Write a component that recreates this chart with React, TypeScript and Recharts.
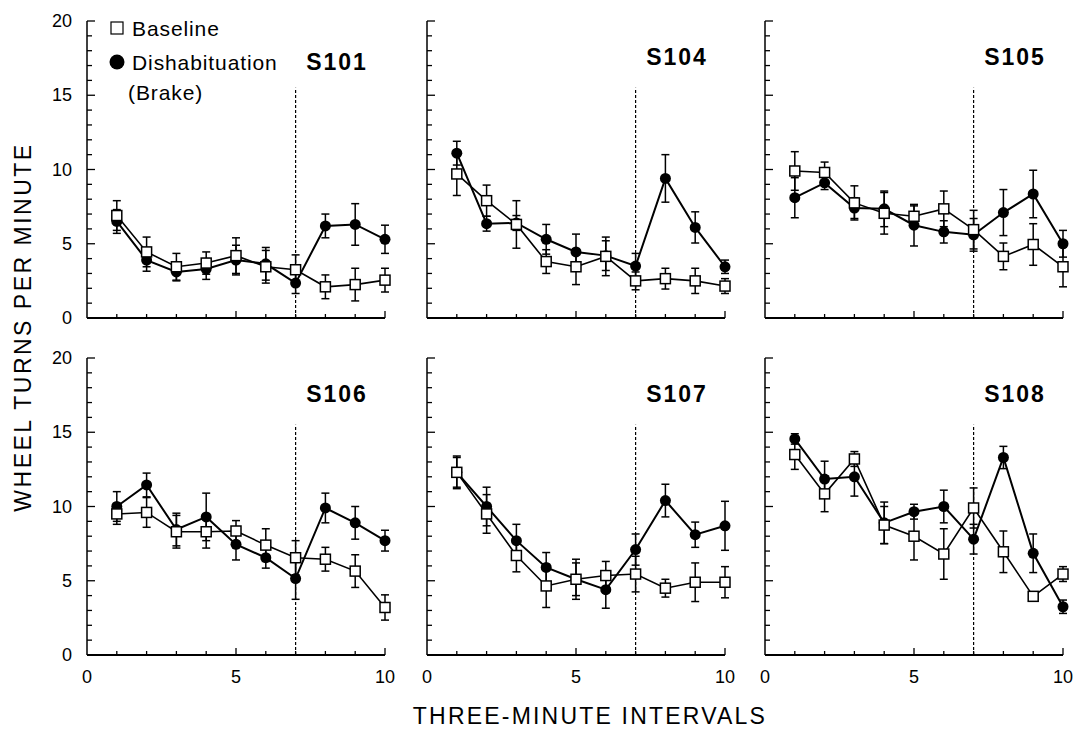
import React from 'react';
import {
  ComposedChart, Line, XAxis, YAxis, ErrorBar, ReferenceLine,
} from 'recharts';

const FONT = '"Liberation Sans", Arial, Helvetica, sans-serif';

// interval number (three-minute blocks)
const INTERVALS = [1, 2, 3, 4, 5, 6, 7, 8, 9, 10];
const X_TICKS = [0, 1, 2, 3, 4, 5, 6, 7, 8, 9, 10];
const Y_TICKS = [0, 1, 2, 3, 4, 5, 6, 7, 8, 9, 10, 11, 12, 13, 14, 15, 16, 17, 18, 19, 20];
const BRAKE_AT = 7;
const BRAKE_LINE_TOP = 15.5;

const S101_BASE = [6.9, 4.45, 3.45, 3.7, 4.2, 3.45, 3.25, 2.1, 2.25, 2.55];
const S101_BASE_ERR = [1.0, 1.0, 0.9, 0.75, 1.2, 1.1, 1.0, 0.8, 1.1, 0.8];
const S101_DISH = [6.5, 3.9, 3.1, 3.3, 3.9, 3.65, 2.35, 6.2, 6.3, 5.3];
const S101_DISH_ERR = [0.8, 0.75, 0.6, 0.7, 1.0, 1.1, 0.7, 0.8, 1.4, 0.95];

const S104_BASE = [9.7, 7.9, 6.3, 3.8, 3.45, 4.15, 2.5, 2.65, 2.5, 2.15];
const S104_BASE_ERR = [1.45, 1.05, 1.6, 0.8, 1.2, 1.3, 0.6, 0.7, 0.85, 0.5];
const S104_DISH = [11.1, 6.35, 6.4, 5.3, 4.45, 4.2, 3.5, 9.4, 6.1, 3.45];
const S104_DISH_ERR = [0.8, 0.5, 0.5, 1.0, 1.2, 1.0, 0.85, 1.6, 1.05, 0.45];

const S105_BASE = [9.9, 9.8, 7.75, 7.05, 6.85, 7.35, 5.95, 4.15, 4.95, 3.45];
const S105_BASE_ERR = [1.3, 0.7, 1.15, 1.4, 0.7, 1.2, 1.3, 0.9, 1.4, 1.35];
const S105_DISH = [8.1, 9.1, 7.4, 7.35, 6.25, 5.8, 5.6, 7.1, 8.35, 5.0];
const S105_DISH_ERR = [1.35, 0.45, 0.7, 1.2, 1.4, 0.75, 1.1, 1.55, 1.6, 0.9];

const S106_BASE = [9.5, 9.6, 8.3, 8.3, 8.35, 7.4, 6.55, 6.45, 5.65, 3.2];
const S106_BASE_ERR = [0.7, 1.0, 1.1, 1.1, 0.7, 1.1, 1.15, 0.8, 1.1, 0.85];
const S106_DISH = [10.0, 11.45, 8.45, 9.3, 7.45, 6.55, 5.15, 9.9, 8.9, 7.7];
const S106_DISH_ERR = [1.0, 0.8, 1.1, 1.6, 1.05, 0.7, 1.4, 1.0, 1.1, 0.7];

const S107_BASE = [12.3, 9.5, 6.7, 4.65, 5.1, 5.35, 5.45, 4.5, 4.9, 4.9];
const S107_BASE_ERR = [1.1, 1.3, 1.1, 1.45, 1.35, 0.95, 1.2, 0.6, 1.3, 1.05];
const S107_DISH = [12.3, 10.0, 7.7, 5.9, 5.1, 4.4, 7.1, 10.4, 8.1, 8.7];
const S107_DISH_ERR = [1.0, 1.3, 1.1, 1.0, 1.1, 1.25, 1.05, 1.1, 0.85, 1.65];

const S108_BASE = [13.5, 10.85, 13.2, 8.75, 8.0, 6.8, 9.9, 6.95, 3.95, 5.45];
const S108_BASE_ERR = [1.0, 1.2, 0.5, 1.25, 1.6, 1.7, 1.35, 1.4, 0.15, 0.5];
const S108_DISH = [14.55, 11.85, 12.0, 8.9, 9.65, 10.0, 7.8, 13.3, 6.85, 3.25];
const S108_DISH_ERR = [0.35, 1.2, 1.3, 1.4, 0.5, 1.1, 1.0, 0.75, 1.3, 0.45];

const PANELS = [
  { id: 'S101', base: S101_BASE, baseErr: S101_BASE_ERR, dish: S101_DISH, dishErr: S101_DISH_ERR },
  { id: 'S104', base: S104_BASE, baseErr: S104_BASE_ERR, dish: S104_DISH, dishErr: S104_DISH_ERR },
  { id: 'S105', base: S105_BASE, baseErr: S105_BASE_ERR, dish: S105_DISH, dishErr: S105_DISH_ERR },
  { id: 'S106', base: S106_BASE, baseErr: S106_BASE_ERR, dish: S106_DISH, dishErr: S106_DISH_ERR },
  { id: 'S107', base: S107_BASE, baseErr: S107_BASE_ERR, dish: S107_DISH, dishErr: S107_DISH_ERR },
  { id: 'S108', base: S108_BASE, baseErr: S108_BASE_ERR, dish: S108_DISH, dishErr: S108_DISH_ERR },
];

// layout
const PLOT_W = 298;
const PLOT_H = 297;
const Y_AXIS_W = 40;
const X_AXIS_H = 45;
const M_TOP = 10;
const M_RIGHT = 16;
const COL_LEFT = [87, 427, 765];
const ROW_TOP = [21, 358];

function SquareDot(props: any) {
  const { cx, cy } = props;
  if (cx == null || cy == null) return null;
  return (
    <rect x={cx - 5} y={cy - 5} width={10} height={10}
      fill="#fff" stroke="#000" strokeWidth={1.5} />
  );
}

function CircleDot(props: any) {
  const { cx, cy } = props;
  if (cx == null || cy == null) return null;
  return <circle cx={cx} cy={cy} r={5.5} fill="#000" />;
}

function makeYTick(showLabel: boolean) {
  return function YTick({ x, y, payload }: any) {
    const major = payload.value % 5 === 0;
    return (
      <g>
        <line x1={x} x2={x + (major ? 8 : 5)} y1={y} y2={y} stroke="#000" strokeWidth={1.3} />
        {showLabel && major && (
          <text x={x - 15} y={y} textAnchor="end" dominantBaseline="central"
            fontSize={18} fontFamily={FONT} fill="#000">
            {payload.value}
          </text>
        )}
      </g>
    );
  };
}

function makeXTick(showLabel: boolean) {
  return function XTick({ x, y, payload }: any) {
    const major = payload.value % 5 === 0;
    return (
      <g>
        {payload.value !== 0 && (
          <line x1={x} x2={x} y1={y} y2={y - (major ? 7 : 4)} stroke="#000" strokeWidth={1.3} />
        )}
        {showLabel && major && (
          <text x={x} y={y + 22} textAnchor="middle" dominantBaseline="central"
            fontSize={18} fontFamily={FONT} fill="#000">
            {payload.value}
          </text>
        )}
      </g>
    );
  };
}

function Panel({ panel, col, row }: any) {
  const data = INTERVALS.map((x, i) => ({
    x,
    base: panel.base[i],
    baseErr: panel.baseErr[i],
    dish: panel.dish[i],
    dishErr: panel.dishErr[i],
  }));
  const width = Y_AXIS_W + PLOT_W + M_RIGHT;
  const height = M_TOP + PLOT_H + X_AXIS_H;
  return (
    <div style={{
      position: 'absolute',
      left: COL_LEFT[col] - Y_AXIS_W,
      top: ROW_TOP[row] - M_TOP,
    }}>
      <ComposedChart width={width} height={height} data={data}
        margin={{ top: M_TOP, right: M_RIGHT, left: 0, bottom: 0 }}>
        <XAxis type="number" dataKey="x" domain={[0, 10]} ticks={X_TICKS} interval={0}
          height={X_AXIS_H} tickSize={0} tickMargin={0}
          axisLine={{ stroke: '#000', strokeWidth: 2 }}
          tick={makeXTick(row === 1)} />
        <YAxis type="number" domain={[0, 20]} ticks={Y_TICKS} interval={0}
          width={Y_AXIS_W} tickSize={0} tickMargin={0}
          axisLine={{ stroke: '#000', strokeWidth: 1.5 }}
          tick={makeYTick(col === 0)} />
        <ReferenceLine
          segment={[{ x: BRAKE_AT, y: 0 }, { x: BRAKE_AT, y: BRAKE_LINE_TOP }]}
          stroke="#000" strokeWidth={1.2} strokeDasharray="3 2" />
        <Line dataKey="dish" stroke="#000" strokeWidth={2} dot={<CircleDot />}
          activeDot={false} isAnimationActive={false}>
          <ErrorBar dataKey="dishErr" direction="y" width={4} stroke="#000" strokeWidth={1.5} />
        </Line>
        <Line dataKey="base" stroke="#000" strokeWidth={1.6} dot={<SquareDot />}
          activeDot={false} isAnimationActive={false}>
          <ErrorBar dataKey="baseErr" direction="y" width={4} stroke="#000" strokeWidth={1.5} />
        </Line>
      </ComposedChart>
    </div>
  );
}

// per-panel id label placement (in pixels relative to plot top-left)
function panelLabelY(id: string) {
  return id === 'S101' ? 41 : 36;
}

export default function App() {
  return (
    <div style={{
      position: 'absolute', left: 0, top: 0, width: 1076, height: 729,
      background: '#fff', overflow: 'hidden', fontFamily: FONT,
    }}>
      {PANELS.map((p, i) => (
        <Panel key={p.id} panel={p} col={i % 3} row={Math.floor(i / 3)} />
      ))}
      <svg width={1076} height={729}
        style={{ position: 'absolute', left: 0, top: 0, pointerEvents: 'none' }}>
        {PANELS.map((p, i) => {
          const col = i % 3;
          const row = Math.floor(i / 3);
          return (
            <text key={p.id}
              x={COL_LEFT[col] + 250} y={ROW_TOP[row] + panelLabelY(p.id)}
              textAnchor="middle" dominantBaseline="central"
              fontSize={23} fontWeight="bold" letterSpacing={2}
              fontFamily={FONT} fill="#000">
              {p.id}
            </text>
          );
        })}
        {/* legend */}
        <rect x={111} y={22} width={12} height={12} fill="#fff" stroke="#000" strokeWidth={1.2} />
        <text x={132} y={28} dominantBaseline="central" fontSize={21} letterSpacing={0.9}
          fontFamily={FONT} fill="#000">Baseline</text>
        <circle cx={117} cy={62} r={7.5} fill="#000" />
        <text x={132} y={62} dominantBaseline="central" fontSize={21} letterSpacing={0.9}
          fontFamily={FONT} fill="#000">Dishabituation</text>
        <text x={128} y={92} dominantBaseline="central" fontSize={21} letterSpacing={0.9}
          fontFamily={FONT} fill="#000">(Brake)</text>
        {/* axis titles */}
        <text x={590} y={716} textAnchor="middle" dominantBaseline="central"
          fontSize={23} letterSpacing={2.2} fontFamily={FONT} fill="#000">
          THREE-MINUTE INTERVALS
        </text>
        <text x={23} y={327} textAnchor="middle" dominantBaseline="central"
          fontSize={23} letterSpacing={2.5} fontFamily={FONT} fill="#000"
          transform="rotate(-90 23 327)">
          WHEEL TURNS PER MINUTE
        </text>
      </svg>
    </div>
  );
}
